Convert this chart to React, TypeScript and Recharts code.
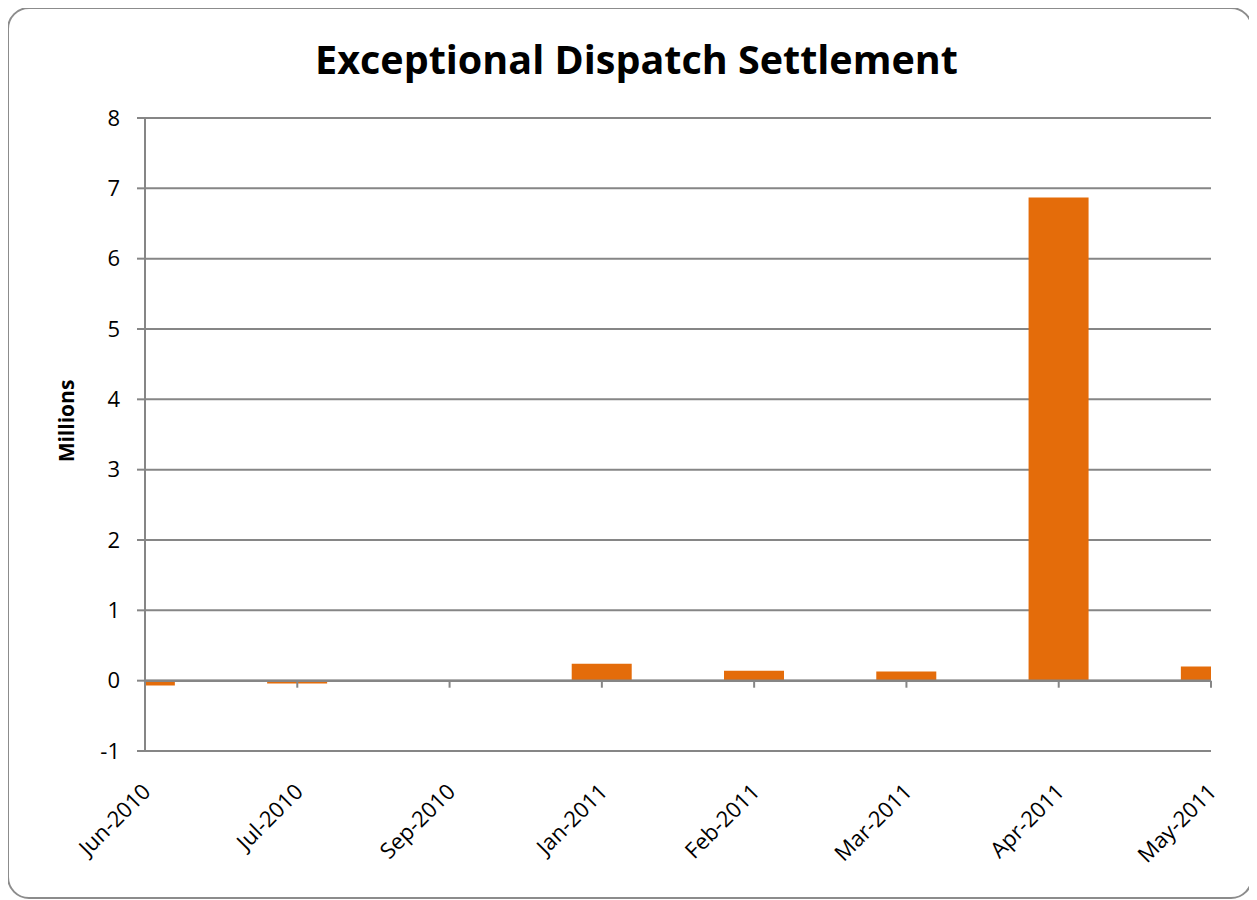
import React from "react";
import {
  BarChart,
  Bar,
  XAxis,
  YAxis,
  CartesianGrid,
  ReferenceLine,
} from "recharts";

const months = [
  "Jun-2010",
  "Jul-2010",
  "Sep-2010",
  "Jan-2011",
  "Feb-2011",
  "Mar-2011",
  "Apr-2011",
  "May-2011",
];
const settlementMillions = [-0.07, -0.04, 0.003, 0.24, 0.14, 0.13, 6.87, 0.2];
const yTicks = [-1, 0, 1, 2, 3, 4, 5, 6, 7, 8];

const data = months.map((m, i) => ({ idx: i, month: m, value: settlementMillions[i] }));
const xTicks = months.map((_, i) => i);

const GRID = "#868686";
const FONT = "'Open Sans', sans-serif";

const MonthTick = (props: any) => {
  const { x, y, payload } = props;
  return (
    <g transform={`translate(${x + 7},${y + 42})`}>
      <text
        x={0}
        y={0}
        textAnchor="end"
        transform="rotate(-45)"
        fontSize={22}
        fill="#000"
        fontFamily={FONT}
      >
        {months[payload.value]}
      </text>
    </g>
  );
};

const App: React.FC = () => {
  return (
    <div style={{ position: "relative", width: 1249, height: 892, fontFamily: FONT }}>
      <div
        style={{
          position: "absolute",
          left: -1,
          top: -1,
          width: 1246,
          height: 892,
          border: "2px solid #8c8c8c",
          borderRadius: 22,
          boxSizing: "border-box",
        }}
      />
      <div
        style={{
          position: "absolute",
          left: 0,
          top: 24,
          width: 1257,
          textAlign: "center",
          fontSize: 39.5,
          fontWeight: 700,
          color: "#000",
        }}
      >
        Exceptional Dispatch Settlement
      </div>
      <div
        style={{
          position: "absolute",
          left: 58,
          top: 413,
          transform: "translate(-50%, -50%) rotate(-90deg)",
          fontSize: 21,
          fontWeight: 700,
          whiteSpace: "nowrap",
        }}
      >
        Millions
      </div>
      <div style={{ position: "absolute", left: 0, top: 0 }}>
        <BarChart
          width={1249}
          height={892}
          data={data}
          margin={{ top: 110, right: 46, bottom: 49, left: 0 }}
        >
          <CartesianGrid vertical={false} stroke={GRID} strokeWidth={2} />
          <XAxis
            dataKey="idx"
            type="number"
            domain={[0, 7]}
            ticks={xTicks}
            allowDataOverflow
            axisLine={false}
            tickLine={false}
            tickSize={0}
            tickMargin={0}
            height={100}
            tick={<MonthTick />}
            interval={0}
          />
          <YAxis
            domain={[-1, 8]}
            ticks={yTicks}
            width={137}
            axisLine={{ stroke: GRID, strokeWidth: 2 }}
            tickLine={{ stroke: GRID, strokeWidth: 2 }}
            tickSize={8}
            tickMargin={17}
            tick={{ fontSize: 22, fill: "#000", fontFamily: FONT }}
            interval={0}
          />
          <Bar
            dataKey="value"
            fill="#E46C0A"
            barSize={60}
            isAnimationActive={false}
          />
          <ReferenceLine y={0} stroke={GRID} strokeWidth={2.5} />
          {xTicks.map((t) => (
            <ReferenceLine
              key={t}
              segment={[
                { x: t, y: 0 },
                { x: t, y: -0.1 },
              ]}
              stroke={GRID}
              strokeWidth={2}
              ifOverflow="visible"
            />
          ))}
        </BarChart>
      </div>
    </div>
  );
};

export default App;
